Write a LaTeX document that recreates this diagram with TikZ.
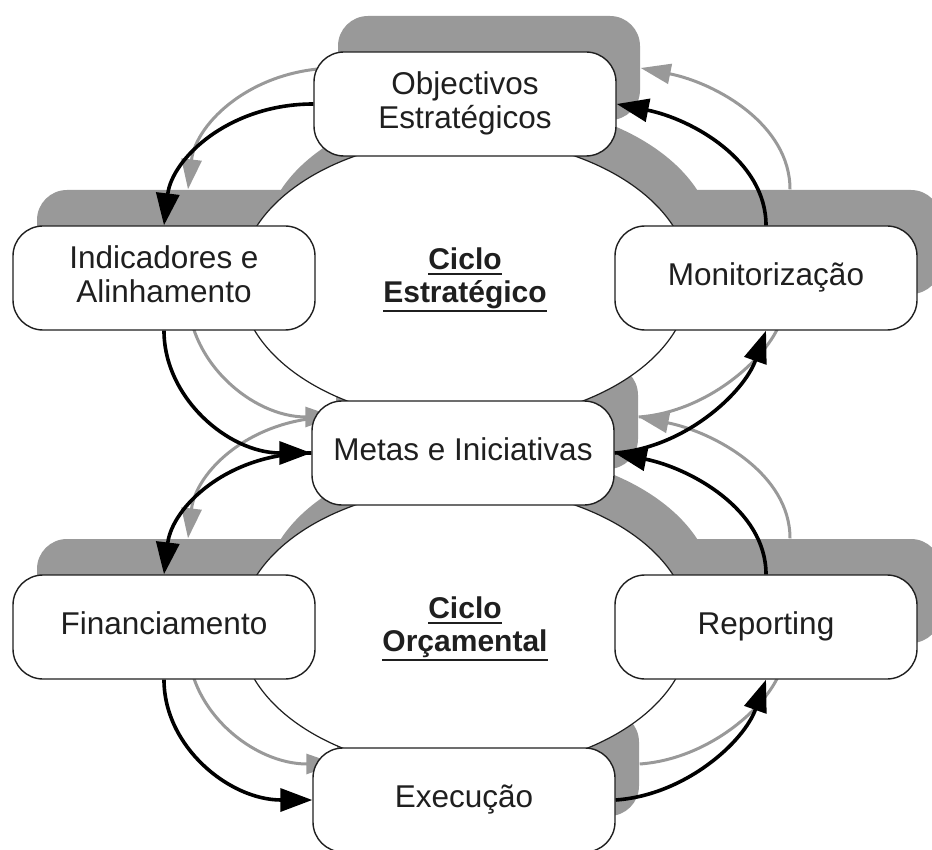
\documentclass[tikz,border=0pt]{standalone}
\usepackage{fontspec}
\setmainfont{Liberation Sans}
\usetikzlibrary{shapes.geometric,arrows.meta}

\pgfdeclarelayer{shadow}
\pgfsetlayers{shadow,main}

\definecolor{shade}{gray}{0.6}
\definecolor{shadearrow}{gray}{0.6}
\definecolor{ink}{gray}{0.12}

% underline drawn a fixed distance below the word's depth
\newcommand\ulbox[1]{\setbox0\hbox{#1}\leavevmode\rlap{\rule[\dimexpr-\dp0*3/5-5.5pt\relax]{\wd0}{2pt}}\box0}
% struts that fix the height and depth of the box labels
\newcommand\tallrule{\rule{0pt}{22pt}}
\newcommand\deeprule{\rule[-8pt]{0pt}{8pt}}

\begin{document}
\begin{tikzpicture}[x=1pt,y=-1pt,
  stagebox/.style={draw=ink, line width=1.4pt, fill=white, rounded corners=30pt,
    minimum width=302pt, minimum height=104pt, inner sep=0pt, align=center,
    font=\fontsize{31.5}{34}\selectfont, text=ink},
  stageshade/.style={fill=shade, rounded corners=30pt,
    minimum width=302pt, minimum height=104pt, inner sep=0pt},
  ringshape/.style={ellipse, draw=ink, line width=1.2pt, fill=white,
    minimum width=450pt, minimum height=284pt, inner sep=0pt, align=center,
    font=\bfseries\fontsize{30}{33}\selectfont, text=ink},
  ringshade/.style={ellipse, fill=shade,
    minimum width=450pt, minimum height=284pt, inner sep=0pt},
  stepflow/.style={draw=black, line width=3.6pt, -{Triangle[length=32pt,width=23pt]}},
  stepflowshade/.style={draw=shadearrow, line width=3pt, -{Triangle[length=30pt,width=20pt]}},
  shadowoff/.style={shift={(24,-36)}}]

\useasboundingbox (0,0) rectangle (932,850);

% the two cycles
\node[ringshape] (strat) at (465,280) {\ulbox{Ciclo}\\\ulbox{Estratégico}};
\node[ringshape] (orc) at (465,629) {\ulbox{Ciclo}\\\ulbox{Orçamental}};

% the stages
\node[stagebox] (obj) at (465,104) {\tallrule Objectivos\\Estratégicos\deeprule};
\node[stagebox] (ind) at (164,278) {\tallrule Indicadores e\\Alinhamento\deeprule};
\node[stagebox] (mon) at (766,278) {\tallrule Monitorização\deeprule};
\node[stagebox] (met) at (463,453) {\tallrule Metas e Iniciativas\deeprule};
\node[stagebox] (fin) at (164,627) {\tallrule Financiamento\deeprule};
\node[stagebox] (rep) at (766,627) {\tallrule Reporting\deeprule};
\node[stagebox] (exe) at (464,800) {\tallrule Execução\deeprule};

% strategic cycle
\draw[stepflow] (obj.west) .. controls +(-84,0) and +(8,-67) .. (ind.north);
\draw[stepflow] (ind.south) .. controls +(0,67) and +(-83,0) .. (met.west);
\draw[stepflow] (met.east) .. controls +(70,-5) and +(-22,62) .. (mon.south);
\draw[stepflow] (mon.north) .. controls +(0,-65) and +(75,15) .. (obj.east);
% budget cycle
\draw[stepflow] (met.west) .. controls +(-84,0) and +(8,-67) .. (fin.north);
\draw[stepflow] (fin.south) .. controls +(0,67) and +(-83,0) .. (exe.west);
\draw[stepflow] (exe.east) .. controls +(70,-5) and +(-22,62) .. (rep.south);
\draw[stepflow] (rep.north) .. controls +(0,-65) and +(75,15) .. (met.east);

% offset shadows of every shape and connector
\begin{pgfonlayer}{shadow}
  \foreach \n in {strat,orc}
    \node[ringshade] (\n-sh) at ([shadowoff]\n.center) {};
  \foreach \n in {obj,ind,mon,met,fin,rep,exe}
    \node[stageshade] (\n-sh) at ([shadowoff]\n.center) {};
  \draw[stepflowshade] ([shadowoff]obj.west) .. controls +(-84,0) and +(8,-67) .. ([shadowoff]ind.north);
  \draw[stepflowshade] ([shadowoff]ind.south) .. controls +(0,67) and +(-83,0) .. ([shadowoff]met.west);
  \draw[stepflowshade] ([shadowoff]met.east) .. controls +(70,-5) and +(-22,62) .. ([shadowoff]mon.south);
  \draw[stepflowshade] ([shadowoff]mon.north) .. controls +(0,-65) and +(75,15) .. ([shadowoff]obj.east);
  \draw[stepflowshade] ([shadowoff]met.west) .. controls +(-84,0) and +(8,-67) .. ([shadowoff]fin.north);
  \draw[stepflowshade] ([shadowoff]fin.south) .. controls +(0,67) and +(-83,0) .. ([shadowoff]exe.west);
  \draw[stepflowshade] ([shadowoff]exe.east) .. controls +(70,-5) and +(-22,62) .. ([shadowoff]rep.south);
  \draw[stepflowshade] ([shadowoff]rep.north) .. controls +(0,-65) and +(75,15) .. ([shadowoff]met.east);
\end{pgfonlayer}
\end{tikzpicture}
\end{document}
